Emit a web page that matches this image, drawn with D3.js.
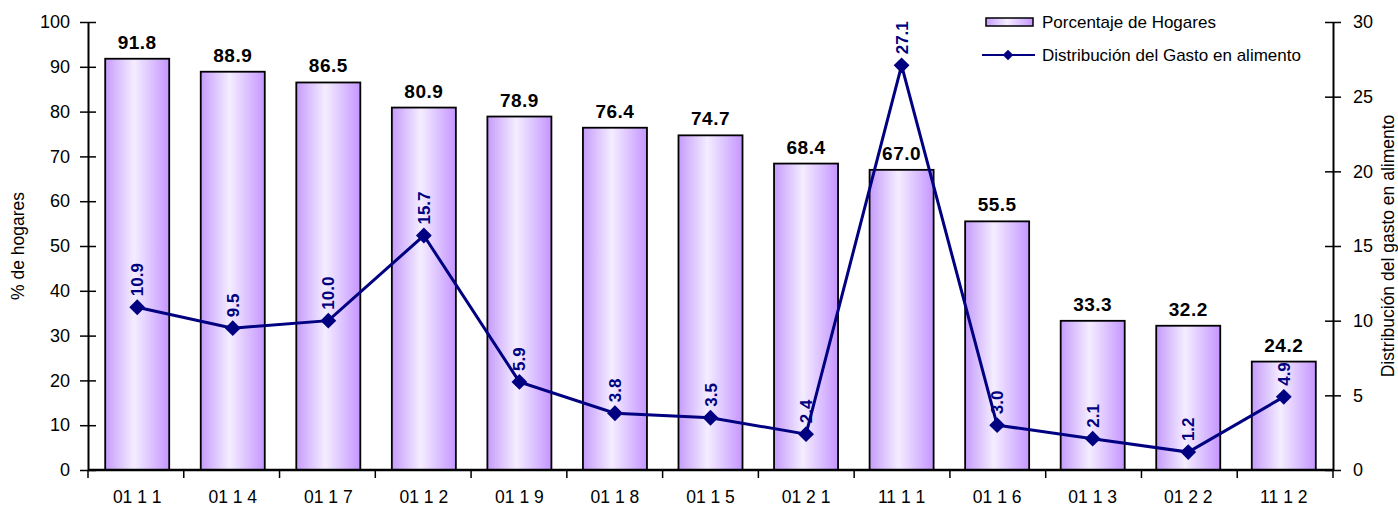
<!DOCTYPE html>
<html lang="es">
	<head>
		<meta charset="utf-8">
		<title>Porcentaje de hogares y distribución del gasto</title>
		<script type="text/javascript" src="https://cdn.jsdelivr.net/npm/d3@7"></script>
		<style type="text/css">
			body { margin: 0; background: #fff; }
			text { font-family: "Liberation Sans", Arial, sans-serif; }
		</style>
	</head>
	<body>
		<script type="text/javascript">

			//Data
			var categories = ["01 1 1", "01 1 4", "01 1 7", "01 1 2", "01 1 9", "01 1 8", "01 1 5",
							  "01 2 1", "11 1 1", "01 1 6", "01 1 3", "01 2 2", "11 1 2"];
			var hogares = [91.8, 88.9, 86.5, 80.9, 78.9, 76.4, 74.7, 68.4, 67.0, 55.5, 33.3, 32.2, 24.2];
			var gasto = [10.9, 9.5, 10.0, 15.7, 5.9, 3.8, 3.5, 2.4, 27.1, 3.0, 2.1, 1.2, 4.9];
			var leftTicks = [0, 10, 20, 30, 40, 50, 60, 70, 80, 90, 100];
			var rightTicks = [0, 5, 10, 15, 20, 25, 30];

			//Width and height
			var w = 1398;
			var h = 508;
			var pLeft = 88, pRight = 1333, pTop = 22, pBottom = 470;

			var xScale = d3.scaleBand()
							.domain(categories)
							.range([pLeft, pRight])
							.paddingInner(0.33)
							.paddingOuter(0.18);

			var yScale = d3.scaleLinear().domain([0, 100]).range([pBottom, pTop]);
			var y2Scale = d3.scaleLinear().domain([0, 30]).range([pBottom, pTop]);

			var svg = d3.select("body")
						.append("svg")
						.attr("width", w)
						.attr("height", h);

			//Gradient for bars
			var grad = svg.append("defs")
						.append("linearGradient")
						.attr("id", "barGrad")
						.attr("x1", "0%").attr("x2", "100%")
						.attr("y1", "0%").attr("y2", "0%");
			grad.append("stop").attr("offset", "0%").attr("stop-color", "#c59cfb");
			grad.append("stop").attr("offset", "45%").attr("stop-color", "#f4edff");
			grad.append("stop").attr("offset", "100%").attr("stop-color", "#c596ff");

			//Bars
			svg.selectAll("rect.bar")
			   .data(hogares)
			   .enter()
			   .append("rect")
			   .attr("class", "bar")
			   .attr("x", function(d, i) { return xScale(categories[i]); })
			   .attr("y", function(d) { return yScale(d); })
			   .attr("width", xScale.bandwidth())
			   .attr("height", function(d) { return pBottom - yScale(d); })
			   .attr("fill", "url(#barGrad)")
			   .attr("stroke", "#000")
			   .attr("stroke-width", 1.8);

			//Bar labels
			svg.selectAll("text.barlabel")
			   .data(hogares)
			   .enter()
			   .append("text")
			   .attr("class", "barlabel")
			   .attr("text-anchor", "middle")
			   .attr("x", function(d, i) { return xScale(categories[i]) + xScale.bandwidth() / 2; })
			   .attr("y", function(d) { return yScale(d) - 10; })
			   .attr("font-size", "19px")
			   .attr("font-weight", "bold")
			   .attr("letter-spacing", "0.5px")
			   .attr("fill", "#000")
			   .text(function(d) { return d.toFixed(1); });

			//Left axis
			var yAxis = d3.axisLeft(yScale).tickValues(leftTicks).tickSizeInner(8).tickSizeOuter(0).tickPadding(10);
			var gy = svg.append("g").attr("transform", "translate(" + pLeft + ",0)").call(yAxis);
			gy.selectAll("text").attr("font-size", "18px").attr("fill", "#000")
				.style("font-family", "'Liberation Sans', Arial, sans-serif");
			gy.selectAll(".tick line").attr("x2", 8).attr("x1", -8).attr("stroke-width", 1.5);
			gy.select(".domain").attr("stroke-width", 2);

			//Right axis
			var y2Axis = d3.axisRight(y2Scale).tickValues(rightTicks).tickSizeInner(8).tickSizeOuter(0).tickPadding(12);
			var gy2 = svg.append("g").attr("transform", "translate(" + pRight + ",0)").call(y2Axis);
			gy2.selectAll("text").attr("font-size", "18px").attr("fill", "#000")
				.style("font-family", "'Liberation Sans', Arial, sans-serif");
			gy2.selectAll(".tick line").attr("x1", -8).attr("x2", 8).attr("stroke-width", 1.5);
			gy2.select(".domain").attr("stroke-width", 2);

			//X axis line and boundary ticks
			svg.append("line")
			   .attr("x1", pLeft).attr("x2", pRight)
			   .attr("y1", pBottom).attr("y2", pBottom)
			   .attr("stroke", "#000").attr("stroke-width", 2.5);

			var step = (pRight - pLeft) / categories.length;
			svg.selectAll("line.xtick")
			   .data(d3.range(categories.length + 1))
			   .enter()
			   .append("line")
			   .attr("class", "xtick")
			   .attr("x1", function(i) { return pLeft + i * step; })
			   .attr("x2", function(i) { return pLeft + i * step; })
			   .attr("y1", pBottom)
			   .attr("y2", pBottom + 8)
			   .attr("stroke", "#000")
			   .attr("stroke-width", 1.5);

			svg.selectAll("text.xlabel")
			   .data(categories)
			   .enter()
			   .append("text")
			   .attr("class", "xlabel")
			   .attr("text-anchor", "middle")
			   .attr("x", function(d) { return xScale(d) + xScale.bandwidth() / 2; })
			   .attr("y", 503)
			   .attr("font-size", "17.5px")
			   .attr("fill", "#000")
			   .text(function(d) { return d; });

			//Axis titles
			svg.append("text")
			   .attr("transform", "translate(24," + ((pTop + pBottom) / 2) + ") rotate(-90)")
			   .attr("text-anchor", "middle")
			   .attr("font-size", "17.5px")
			   .text("% de hogares");

			svg.append("text")
			   .attr("transform", "translate(1394," + ((pTop + pBottom) / 2) + ") rotate(-90)")
			   .attr("text-anchor", "middle")
			   .attr("font-size", "17.5px")
			   .text("Distribución del gasto en alimento");

			//Line
			var line = d3.line()
						.x(function(d, i) { return xScale(categories[i]) + xScale.bandwidth() / 2; })
						.y(function(d) { return y2Scale(d); });

			svg.append("path")
			   .datum(gasto)
			   .attr("d", line)
			   .attr("fill", "none")
			   .attr("stroke", "#000080")
			   .attr("stroke-width", 3);

			var diamond = d3.symbol().type(d3.symbolDiamond2).size(160);

			svg.selectAll("path.marker")
			   .data(gasto)
			   .enter()
			   .append("path")
			   .attr("class", "marker")
			   .attr("d", diamond)
			   .attr("transform", function(d, i) {
			   		return "translate(" + (xScale(categories[i]) + xScale.bandwidth() / 2) + "," + y2Scale(d) + ")";
			   })
			   .attr("fill", "#000080");

			svg.selectAll("text.linelabel")
			   .data(gasto)
			   .enter()
			   .append("text")
			   .attr("class", "linelabel")
			   .attr("transform", function(d, i) {
			   		var x = xScale(categories[i]) + xScale.bandwidth() / 2 + 6;
			   		return "translate(" + x + "," + (y2Scale(d) - 11) + ") rotate(-90)";
			   })
			   .attr("text-anchor", "start")
			   .attr("font-size", "17px")
			   .attr("font-weight", "bold")
			   .attr("fill", "#000080")
			   .text(function(d) { return d.toFixed(1); });

			//Legend
			var lg = svg.append("g");
			lg.append("rect")
			  .attr("x", 986).attr("y", 18).attr("width", 47).attr("height", 8)
			  .attr("fill", "url(#barGrad)").attr("stroke", "#000").attr("stroke-width", 1.5);
			lg.append("text")
			  .attr("x", 1042).attr("y", 28)
			  .attr("font-size", "17px")
			  .text("Porcentaje de Hogares");
			lg.append("line")
			  .attr("x1", 982).attr("x2", 1035).attr("y1", 55).attr("y2", 55)
			  .attr("stroke", "#000080").attr("stroke-width", 2);
			lg.append("path")
			  .attr("d", d3.symbol().type(d3.symbolDiamond2).size(70))
			  .attr("transform", "translate(1008,55)")
			  .attr("fill", "#000080");
			lg.append("text")
			  .attr("x", 1042).attr("y", 61)
			  .attr("font-size", "17px")
			  .text("Distribución del Gasto en alimento");

		</script>
	</body>
</html>
